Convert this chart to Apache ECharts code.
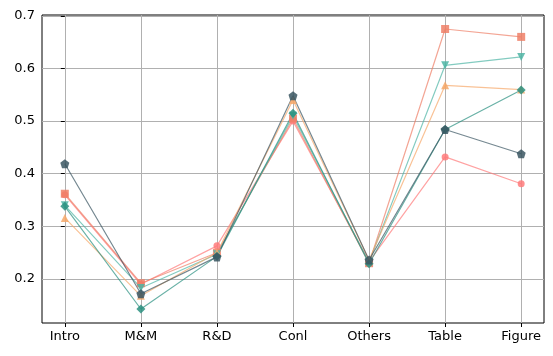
<!DOCTYPE html>
<html>
<head>
<meta charset="utf-8">
<script src="https://cdn.jsdelivr.net/npm/echarts@6/dist/echarts.min.js"></script>
<style>
  html, body { margin: 0; padding: 0; background: #fff; }
  #chart { width: 553px; height: 356px; }
</style>
</head>
<body>
<div id="chart"></div>
<script>
var categories = ['Intro', 'M&M', 'R&D', 'Conl', 'Others', 'Table', 'Figure'];
var circleVals   = [0.360, 0.190, 0.263, 0.500, 0.233, 0.432, 0.381];
var squareVals   = [0.362, 0.192, 0.250, 0.505, 0.230, 0.675, 0.660];
var triDownVals  = [0.340, 0.183, 0.247, 0.510, 0.232, 0.606, 0.622];
var triUpVals    = [0.316, 0.168, 0.250, 0.540, 0.236, 0.568, 0.560];
var diamondVals  = [0.338, 0.143, 0.243, 0.515, 0.229, 0.484, 0.559];
var pentagonVals = [0.419, 0.172, 0.242, 0.548, 0.236, 0.484, 0.438];
var yTicks = [0.2, 0.3, 0.4, 0.5, 0.6, 0.7];

var pentagon = 'path://M0,-10L9.51,-3.09L5.88,8.09L-5.88,8.09L-9.51,-3.09Z';
var diamond = 'path://M0,-10L10,0L0,10L-10,0Z';

function pts(vals) {
  return vals.map(function (v, i) { return [i, v]; });
}

function line(vals, color, symbol, size, rotate) {
  return {
    type: 'line',
    data: pts(vals),
    symbol: symbol,
    symbolSize: size,
    symbolRotate: rotate || 0,
    lineStyle: { color: color, width: 1.2, opacity: 0.7 },
    itemStyle: { color: color, opacity: 0.85 },
    emphasis: { disabled: true },
    z: 3
  };
}

var chart = echarts.init(document.getElementById('chart'));
var option = {
  animation: false,
  grid: {
    left: 42, right: 9, top: 15, bottom: 33,
    show: true, borderColor: '#000', borderWidth: 1
  },
  xAxis: {
    type: 'value',
    min: -0.3, max: 6.3,
    axisLine: { show: false },
    axisTick: { show: true, inside: false, length: 4, customValues: [0, 1, 2, 3, 4, 5, 6], lineStyle: { color: '#000' } },
    axisLabel: {
      customValues: [0, 1, 2, 3, 4, 5, 6],
      color: '#000', fontSize: 13, fontFamily: 'DejaVu Sans', margin: 7,
      formatter: function (v) { return categories[Math.round(v)]; }
    },
    splitLine: { show: true, lineStyle: { color: '#b0b0b0', width: 1 } }
  },
  yAxis: {
    type: 'value',
    min: 0.1164, max: 0.7016,
    axisLine: { show: false },
    axisTick: { show: true, inside: false, length: 4, customValues: yTicks, lineStyle: { color: '#000' } },
    axisLabel: {
      customValues: yTicks,
      color: '#000', fontSize: 13, fontFamily: 'DejaVu Sans', margin: 7,
      formatter: function (v) { return v.toFixed(1); }
    },
    splitLine: { show: true, lineStyle: { color: '#b0b0b0', width: 1 } }
  },
  series: [
    line(circleVals, '#ff7b7b', 'circle', 7),
    line(squareVals, '#ee7f66', 'rect', 8),
    line(triDownVals, '#4fb5a5', 'triangle', 8, 180),
    line(triUpVals, '#f6a86a', 'triangle', 8),
    line(diamondVals, '#2a9080', diamond, 9),
    line(pentagonVals, '#3a5662', pentagon, 9)
  ]
};
chart.setOption(option);
window.onresize = chart.resize;
</script>
</body>
</html>
